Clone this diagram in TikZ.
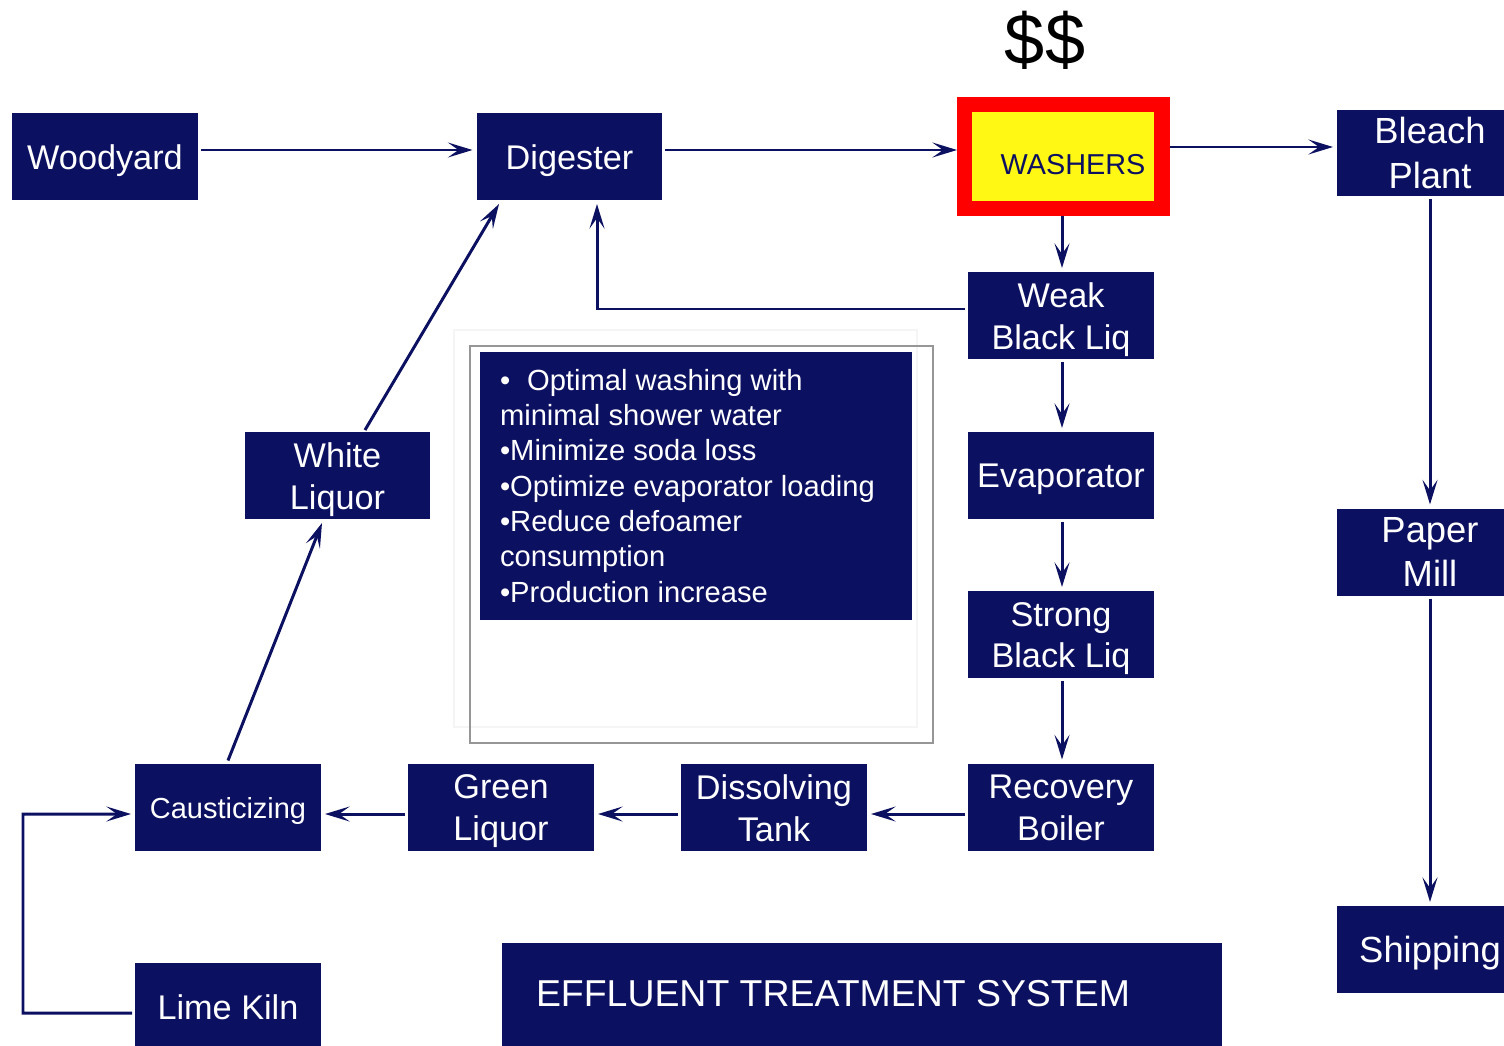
\documentclass[tikz,border=0pt]{standalone}
\usepackage{fontspec}
\setmainfont{Liberation Sans}
\usetikzlibrary{arrows.meta,calc}
\definecolor{navy}{RGB}{12,16,96}
\definecolor{washyellow}{RGB}{255,247,20}
\definecolor{framegray}{RGB}{150,150,150}
\begin{document}
\begin{tikzpicture}[x=0.02cm,y=-0.02cm,
  box/.style={fill=navy,minimum width=3.72cm,minimum height=1.74cm,
    inner sep=0pt,outer sep=0pt},
  boxtext/.style={text=white,align=center,yshift=-0.08cm,inner sep=0pt,
    font=\fontsize{19.5}{23.8}\selectfont},
  sidetext/.style={boxtext,yshift=0.08cm,font=\fontsize{20.7}{25.5}\selectfont},
  flow/.style={draw=navy,line width=1.7pt,-{Stealth[length=14pt,width=8.5pt,inset=6pt]}},
  plain/.style={inner sep=0pt,outer sep=0pt}]
\useasboundingbox (0,0) rectangle (1504,1045);
\clip (0,0) rectangle (1504,1045);

% process blocks
\node[box,label={[boxtext]center:Woodyard}] (woodyard) at (105,156.5) {};
\node[box,label={[boxtext]center:Digester}] (digester) at (569.5,156.5) {};
\node[plain,fill=red,minimum width=4.26cm,minimum height=2.38cm] (washers) at (1063.5,156.5) {};
\node[plain,fill=washyellow,minimum width=3.64cm,minimum height=1.78cm] (washin) at (1063,156.5) {};
\node[text=navy,font=\fontsize{16.4}{20}\selectfont] (washlabel) at (1073,165) {WASHERS};
\node[box,label={[sidetext]center:Bleach\\Plant}] (bleach) at (1430,153) {};
\node[box,label={[boxtext]center:Weak\\Black Liq}] (weak) at (1061,315.5) {};
\node[box,label={[boxtext]center:Evaporator}] (evap) at (1061,475.5) {};
\node[box,label={[boxtext]center:Strong\\Black Liq}] (strong) at (1061,634.5) {};
\node[box,label={[boxtext,yshift=0.06cm]center:Recovery\\Boiler}] (recovery) at (1061,807) {};
\node[box,label={[boxtext,yshift=0.06cm]center:Dissolving\\Tank}] (dissolving) at (774,807) {};
\node[box,label={[boxtext]center:Green\\Liquor}] (green) at (501,807) {};
\node[box,label={[boxtext,font=\fontsize{16.5}{20}\selectfont]center:Causticizing}] (caust) at (228,807) {};
\node[box,label={[boxtext,yshift=0.06cm]center:Lime Kiln}] (lime) at (228,1006.5) {};
\node[box,label={[boxtext]center:White\\Liquor}] (white) at (337.5,475.5) {};
\node[box,label={[sidetext]center:Paper\\Mill}] (paper) at (1430,552) {};
\node[box,label={[sidetext,yshift=-0.08cm]center:Shipping}] (shipping) at (1430,949.5) {};

% effluent treatment bar
\node[plain,fill=navy,minimum width=14.4cm,minimum height=2.14cm] (effluent) at (862,996.5) {};
\node[plain,anchor=west,text=white,font=\fontsize{21.3}{25}\selectfont] (efftext) at (536,994) {EFFLUENT TREATMENT SYSTEM};

% cost marker
\node[font=\fontsize{41}{48}\selectfont] (cost) at (1045,40) {\$\$};

% benefits panel
\draw[gray!8,line width=1pt] (454,330) rectangle (917,727);
\draw[framegray,line width=1.4pt] (470,346) rectangle (933,743);
\node[plain,fill=navy,minimum width=8.64cm,minimum height=5.36cm,anchor=north west] (notes) at (480,352) {};
\node[plain,anchor=north west,align=left,text=white,font=\fontsize{16.6}{20.1}\selectfont] (notetext) at (500,369)
  {•\hspace{9.6pt}Optimal washing with\\minimal shower water\\•Minimize soda loss\\•Optimize evaporator loading\\•Reduce defoamer\\consumption\\•Production increase};

% fibre line
\draw[flow] ($(woodyard.east)+(3,-6.5)$) -- ($(digester.west)+(-4,-6.5)$);
\draw[flow] ($(digester.east)+(3,-6.5)$) -- ($(washers.west)+(0,-6.5)$);
\draw[flow] ($(washers.east)+(0,-9.5)$) -- ($(bleach.west)+(-4,-6)$);
\draw[flow] ($(bleach.south)+(0,3)$) -- ($(paper.north)+(0,-4)$);
\draw[flow] ($(paper.south)+(0,3)$) -- ($(shipping.north)+(0,-4)$);

% liquor cycle
\draw[flow] ($(washers.south)+(-1.5,0)$) -- ($(weak.north)+(1,-4)$);
\draw[flow] ($(weak.west)+(-3,-6.5)$) -| ($(digester.south)+(27.5,4)$);
\draw[flow] ($(weak.south)+(1,3)$) -- ($(evap.north)+(1,-4)$);
\draw[flow] ($(evap.south)+(1,3)$) -- ($(strong.north)+(1,-4)$);
\draw[flow] ($(strong.south)+(1,3)$) -- ($(recovery.north)+(1,-4)$);
\draw[flow] ($(recovery.west)+(-3,7)$) -- ($(dissolving.east)+(4,7)$);
\draw[flow] ($(dissolving.west)+(-3,7)$) -- ($(green.east)+(4,7)$);
\draw[flow] ($(green.west)+(-3,7)$) -- ($(caust.east)+(4,7)$);
\coordinate (kilnbend) at (23,1013);
\draw[flow] ($(lime.west)+(-3,6.5)$) -- (kilnbend) |- ($(caust.west)+(-4,7)$);
\draw[flow] ($(caust.north)+(0,-3)$) -- ($(white.south)+(-15.5,4)$);
\draw[flow] ($(white.north)+(27.5,-2)$) -- ($(digester.south)+(-70.5,4)$);
\end{tikzpicture}
\end{document}
